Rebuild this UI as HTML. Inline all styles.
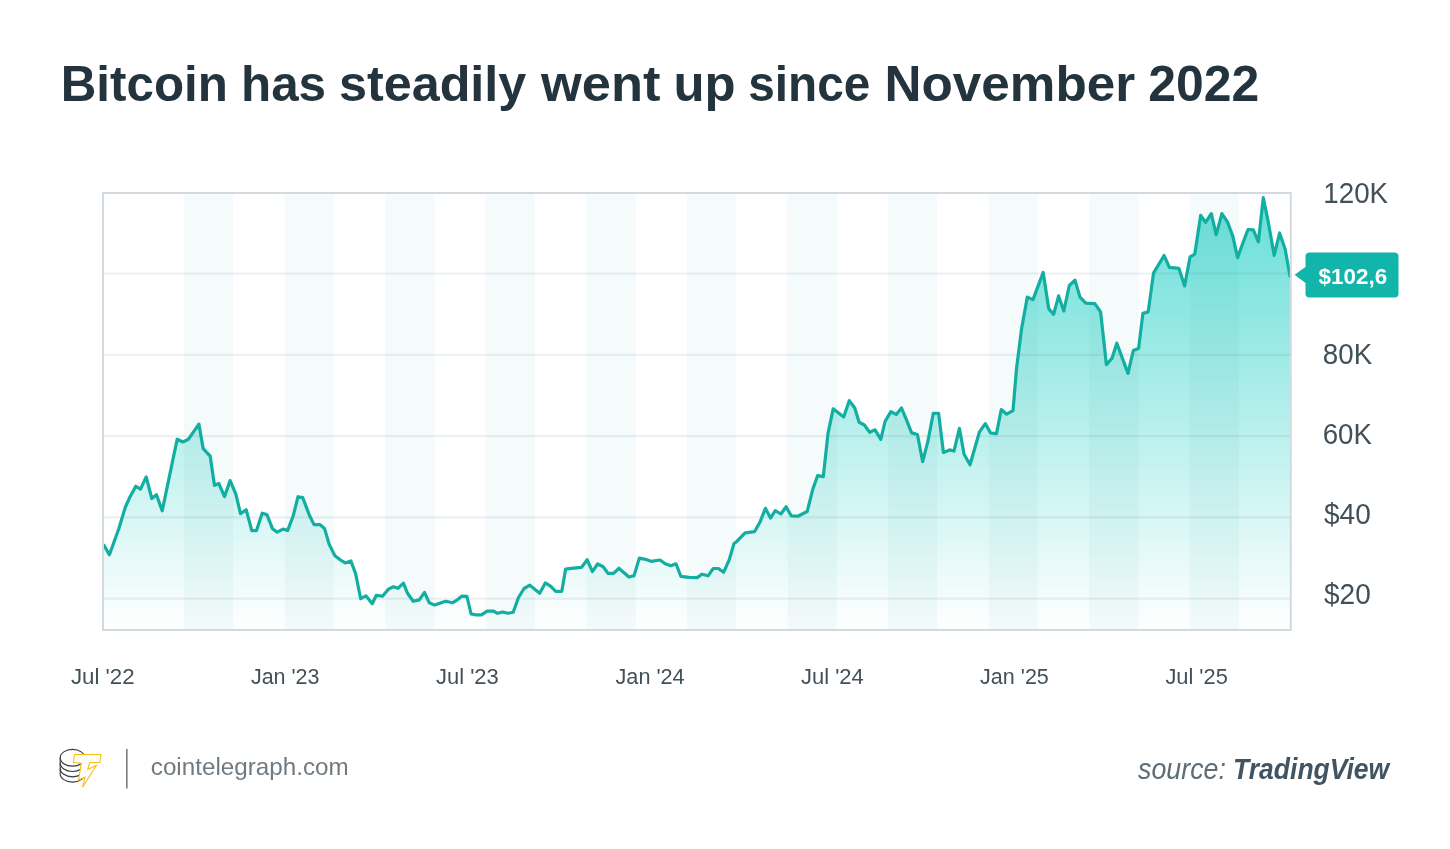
<!DOCTYPE html>
<html><head><meta charset="utf-8"><style>
html,body{margin:0;padding:0;background:#fff;width:1450px;height:849px;overflow:hidden}
svg{display:block;will-change:transform}
text{font-family:"Liberation Sans",sans-serif}
</style></head><body>
<svg width="1450" height="849" viewBox="0 0 1450 849">
<defs>
<linearGradient id="g" gradientUnits="userSpaceOnUse" x1="0" y1="193" x2="0" y2="630">
<stop offset="0" stop-color="#66ded7"/>
<stop offset="1" stop-color="#ffffff"/>
</linearGradient>
</defs>
<rect width="1450" height="849" fill="#fff"/>
<text x="60.72" y="100.6" font-size="49.6" font-weight="bold" fill="#24343e" textLength="167.12" lengthAdjust="spacingAndGlyphs">Bitcoin</text>
<text x="241.02" y="100.6" font-size="49.6" font-weight="bold" fill="#24343e" textLength="85.04" lengthAdjust="spacingAndGlyphs">has</text>
<text x="338.92" y="100.6" font-size="49.6" font-weight="bold" fill="#24343e" textLength="187.43" lengthAdjust="spacingAndGlyphs">steadily</text>
<text x="541.0" y="100.6" font-size="49.6" font-weight="bold" fill="#24343e" textLength="119.36" lengthAdjust="spacingAndGlyphs">went</text>
<text x="673.52" y="100.6" font-size="49.6" font-weight="bold" fill="#24343e" textLength="62.12" lengthAdjust="spacingAndGlyphs">up</text>
<text x="748.22" y="100.6" font-size="49.6" font-weight="bold" fill="#24343e" textLength="122.0" lengthAdjust="spacingAndGlyphs">since</text>
<text x="884.54" y="100.6" font-size="49.6" font-weight="bold" fill="#24343e" textLength="250.69" lengthAdjust="spacingAndGlyphs">November</text>
<text x="1148.24" y="100.6" font-size="49.6" font-weight="bold" fill="#24343e" textLength="110.95" lengthAdjust="spacingAndGlyphs">2022</text>
<path d="M103.5 544.5 L109.4 554.7 L118.8 528.7 L125.4 507 L130.1 496.7 L135.8 486.3 L140.5 489.1 L146.2 476.9 L151.8 498.5 L156.5 494.8 L162.2 510.8 L177.2 439.2 L182.9 442 L188.5 439.2 L198.9 424.1 L203.2 448.6 L210.2 456.2 L214.5 485.4 L218.8 483.5 L224.5 496.7 L230.1 480.6 L235.8 493.8 L240.5 513.6 L246.2 509.8 L251.8 530.6 L256.5 530.6 L262.2 513.2 L266.9 514.6 L272.5 528.7 L277.2 532.1 L282.9 529.1 L287.6 530.6 L293.3 515.5 L298 496.7 L302.7 497.6 L309.4 515.2 L314 524.6 L319.8 524.6 L324.5 528.4 L329.2 544.4 L334.9 555.7 L340.5 560 L345.2 562.9 L350.9 561 L355.6 573.6 L360.7 598.7 L365.9 595.8 L372.2 603.8 L376.3 595.3 L382.5 596.2 L388.5 589.1 L393.3 586.8 L398 588.3 L403.4 583.1 L407.5 593.3 L413.2 601.3 L419.3 599.9 L424.5 592.4 L429.2 602.7 L434.8 605.1 L440.5 603 L445.7 601.3 L452.7 602.7 L456.5 600.4 L461.7 596.2 L466.9 596.3 L471.1 614 L476.3 614.8 L481.5 614.8 L487.1 611.2 L493.2 611 L497.5 613.3 L502.7 612 L507.8 613.3 L513.2 612.2 L518.5 597.5 L524.1 588.5 L529.8 585.2 L539.7 593.2 L545.3 582.9 L550.5 586.2 L555.7 591.3 L561.8 591.3 L565.6 569.2 L571.2 568.3 L581.6 567.3 L587.2 559.8 L592.4 571.6 L597.6 564 L603.2 566.8 L608 573.4 L613.6 573.4 L618.8 568.3 L628.9 577 L634.1 575.6 L639.3 558.1 L644.5 559.1 L651.1 561.3 L660 560 L665.2 563.8 L670.9 565.7 L676 563.8 L680.8 576.3 L688.8 577.3 L697.2 577.6 L701.9 574.2 L708.1 575.8 L713.2 568.5 L718.4 568.5 L723.6 572.3 L729.3 559.6 L734 543.5 L736.6 541.7 L745.1 532.8 L754.5 531.7 L760.1 521.9 L765.4 508.3 L770.5 518.1 L775.2 510.6 L780.9 514 L786.1 506.8 L791.2 515.8 L797.8 516.2 L807.2 511.5 L812.9 488.9 L817.6 475.7 L823.3 476.7 L828 433.3 L833.2 408.8 L843.7 417 L849.3 400.6 L854.8 408 L859.1 422.3 L864.4 425 L869.7 432.4 L875 429.8 L880.8 439.3 L885.1 421.3 L890.9 411.7 L896.2 414.4 L901.5 408 L906.8 420.7 L911.6 432.9 L917.4 434.5 L922.7 461.6 L928 440.9 L933.3 413.3 L938.6 413.3 L943.4 452.5 L949.7 449.9 L954 451 L959.4 428.3 L964.1 454.2 L970 464.8 L979.5 431.8 L985.3 423.6 L990.6 433 L996.5 433.6 L1001.3 409.5 L1006.6 414.2 L1013 410.6 L1016.5 368.8 L1021.5 329.2 L1027.3 297.1 L1033 299.6 L1043.2 272.4 L1048.7 308.6 L1053.6 314.4 L1058.6 295.9 L1063.8 311.1 L1069.3 285.5 L1075 280.1 L1080 297.1 L1085.8 303.2 L1094.8 303.7 L1100.6 311.9 L1106.4 364.7 L1112.1 358.1 L1116.8 343.2 L1128 373.4 L1133.3 350.5 L1138.6 348.4 L1142.9 313.4 L1148.2 311.9 L1153.5 273.1 L1164.1 255.5 L1169.4 267.4 L1178.9 268.3 L1184.6 285.9 L1190.1 256.8 L1194.8 254.1 L1200.7 215.3 L1205.6 222.4 L1211.3 213.6 L1216.2 234.8 L1221.9 213.6 L1227.4 221.8 L1232.7 235.9 L1237.6 257.7 L1243.3 241.8 L1248 229.5 L1253.3 229.8 L1258.4 241.8 L1263.3 197.7 L1268 220.6 L1274.2 255.4 L1279.6 233 L1285.1 248.9 L1290.2 277.2 L1290.2 630 L103.5 630 Z" fill="url(#g)"/>
<g fill="#1a8080" fill-opacity="0.045"><rect x="184" y="194" width="49.3" height="435"/><rect x="284.6" y="194" width="49.3" height="435"/><rect x="385.2" y="194" width="49.3" height="435"/><rect x="485.7" y="194" width="49.3" height="435"/><rect x="586.3" y="194" width="49.3" height="435"/><rect x="686.9" y="194" width="49.3" height="435"/><rect x="787.5" y="194" width="49.3" height="435"/><rect x="888.1" y="194" width="49.3" height="435"/><rect x="988.6" y="194" width="49.3" height="435"/><rect x="1089.2" y="194" width="49.3" height="435"/><rect x="1189.8" y="194" width="49.3" height="435"/></g>
<g stroke="#144650" stroke-opacity="0.075" stroke-width="2.2">
<line x1="104" y1="273.5" x2="1290" y2="273.5"/>
<line x1="104" y1="354.8" x2="1290" y2="354.8"/>
<line x1="104" y1="436.1" x2="1290" y2="436.1"/>
<line x1="104" y1="517.4" x2="1290" y2="517.4"/>
<line x1="104" y1="598.7" x2="1290" y2="598.7"/>
</g>
<path d="M103.5 544.5 L109.4 554.7 L118.8 528.7 L125.4 507 L130.1 496.7 L135.8 486.3 L140.5 489.1 L146.2 476.9 L151.8 498.5 L156.5 494.8 L162.2 510.8 L177.2 439.2 L182.9 442 L188.5 439.2 L198.9 424.1 L203.2 448.6 L210.2 456.2 L214.5 485.4 L218.8 483.5 L224.5 496.7 L230.1 480.6 L235.8 493.8 L240.5 513.6 L246.2 509.8 L251.8 530.6 L256.5 530.6 L262.2 513.2 L266.9 514.6 L272.5 528.7 L277.2 532.1 L282.9 529.1 L287.6 530.6 L293.3 515.5 L298 496.7 L302.7 497.6 L309.4 515.2 L314 524.6 L319.8 524.6 L324.5 528.4 L329.2 544.4 L334.9 555.7 L340.5 560 L345.2 562.9 L350.9 561 L355.6 573.6 L360.7 598.7 L365.9 595.8 L372.2 603.8 L376.3 595.3 L382.5 596.2 L388.5 589.1 L393.3 586.8 L398 588.3 L403.4 583.1 L407.5 593.3 L413.2 601.3 L419.3 599.9 L424.5 592.4 L429.2 602.7 L434.8 605.1 L440.5 603 L445.7 601.3 L452.7 602.7 L456.5 600.4 L461.7 596.2 L466.9 596.3 L471.1 614 L476.3 614.8 L481.5 614.8 L487.1 611.2 L493.2 611 L497.5 613.3 L502.7 612 L507.8 613.3 L513.2 612.2 L518.5 597.5 L524.1 588.5 L529.8 585.2 L539.7 593.2 L545.3 582.9 L550.5 586.2 L555.7 591.3 L561.8 591.3 L565.6 569.2 L571.2 568.3 L581.6 567.3 L587.2 559.8 L592.4 571.6 L597.6 564 L603.2 566.8 L608 573.4 L613.6 573.4 L618.8 568.3 L628.9 577 L634.1 575.6 L639.3 558.1 L644.5 559.1 L651.1 561.3 L660 560 L665.2 563.8 L670.9 565.7 L676 563.8 L680.8 576.3 L688.8 577.3 L697.2 577.6 L701.9 574.2 L708.1 575.8 L713.2 568.5 L718.4 568.5 L723.6 572.3 L729.3 559.6 L734 543.5 L736.6 541.7 L745.1 532.8 L754.5 531.7 L760.1 521.9 L765.4 508.3 L770.5 518.1 L775.2 510.6 L780.9 514 L786.1 506.8 L791.2 515.8 L797.8 516.2 L807.2 511.5 L812.9 488.9 L817.6 475.7 L823.3 476.7 L828 433.3 L833.2 408.8 L843.7 417 L849.3 400.6 L854.8 408 L859.1 422.3 L864.4 425 L869.7 432.4 L875 429.8 L880.8 439.3 L885.1 421.3 L890.9 411.7 L896.2 414.4 L901.5 408 L906.8 420.7 L911.6 432.9 L917.4 434.5 L922.7 461.6 L928 440.9 L933.3 413.3 L938.6 413.3 L943.4 452.5 L949.7 449.9 L954 451 L959.4 428.3 L964.1 454.2 L970 464.8 L979.5 431.8 L985.3 423.6 L990.6 433 L996.5 433.6 L1001.3 409.5 L1006.6 414.2 L1013 410.6 L1016.5 368.8 L1021.5 329.2 L1027.3 297.1 L1033 299.6 L1043.2 272.4 L1048.7 308.6 L1053.6 314.4 L1058.6 295.9 L1063.8 311.1 L1069.3 285.5 L1075 280.1 L1080 297.1 L1085.8 303.2 L1094.8 303.7 L1100.6 311.9 L1106.4 364.7 L1112.1 358.1 L1116.8 343.2 L1128 373.4 L1133.3 350.5 L1138.6 348.4 L1142.9 313.4 L1148.2 311.9 L1153.5 273.1 L1164.1 255.5 L1169.4 267.4 L1178.9 268.3 L1184.6 285.9 L1190.1 256.8 L1194.8 254.1 L1200.7 215.3 L1205.6 222.4 L1211.3 213.6 L1216.2 234.8 L1221.9 213.6 L1227.4 221.8 L1232.7 235.9 L1237.6 257.7 L1243.3 241.8 L1248 229.5 L1253.3 229.8 L1258.4 241.8 L1263.3 197.7 L1268 220.6 L1274.2 255.4 L1279.6 233 L1285.1 248.9 L1290.2 277.2" fill="none" stroke="#12aea2" stroke-width="3.2" stroke-linejoin="round"/>
<rect x="103" y="193" width="1187.8" height="437" fill="none" stroke="#d0dae0" stroke-width="2"/>
<text x="1323.32" y="203" font-size="28.6" fill="#425159" textLength="64.8" lengthAdjust="spacingAndGlyphs">120K</text>
<text x="1322.79" y="363.5" font-size="28.6" fill="#425159" textLength="49.39" lengthAdjust="spacingAndGlyphs">80K</text>
<text x="1322.65" y="443.7" font-size="28.6" fill="#425159" textLength="49.23" lengthAdjust="spacingAndGlyphs">60K</text>
<text x="1323.95" y="523.7" font-size="28.6" fill="#425159" textLength="46.84" lengthAdjust="spacingAndGlyphs">$40</text>
<text x="1323.95" y="603.7" font-size="28.6" fill="#425159" textLength="46.84" lengthAdjust="spacingAndGlyphs">$20</text>
<path d="M1294.6 274.8 L1305.5 267 L1305.5 256.5 Q1305.5 252.5 1309.5 252.5 L1394.5 252.5 Q1398.5 252.5 1398.5 256.5 L1398.5 293.5 Q1398.5 297.5 1394.5 297.5 L1309.5 297.5 Q1305.5 297.5 1305.5 293.5 L1305.5 283 Z" fill="#12b5aa"/>
<text x="1318.55" y="283.7" font-size="22.3" font-weight="bold" fill="#fff" textLength="68.55" lengthAdjust="spacingAndGlyphs">$102,6</text>
<text x="70.9" y="683.8" font-size="22.3" fill="#425159" textLength="63.62" lengthAdjust="spacingAndGlyphs">Jul '22</text>
<text x="250.92" y="683.8" font-size="22.3" fill="#425159" textLength="68.6" lengthAdjust="spacingAndGlyphs">Jan '23</text>
<text x="436.01" y="683.8" font-size="22.3" fill="#425159" textLength="62.8" lengthAdjust="spacingAndGlyphs">Jul '23</text>
<text x="615.51" y="683.8" font-size="22.3" fill="#425159" textLength="69.17" lengthAdjust="spacingAndGlyphs">Jan '24</text>
<text x="801.01" y="683.8" font-size="22.3" fill="#425159" textLength="62.75" lengthAdjust="spacingAndGlyphs">Jul '24</text>
<text x="980.12" y="683.8" font-size="22.3" fill="#425159" textLength="68.7" lengthAdjust="spacingAndGlyphs">Jan '25</text>
<text x="1165.41" y="683.8" font-size="22.3" fill="#425159" textLength="62.39" lengthAdjust="spacingAndGlyphs">Jul '25</text>
<g fill="none" stroke="#33393e" stroke-width="1.15">
<ellipse cx="72.5" cy="757.8" rx="12.3" ry="8.4"/>
<path d="M60.2 757.8 L60.2 773.7"/>
<path d="M60.2 763.1 A12.3 8.4 0 0 0 84.8 763.1"/>
<path d="M60.2 768.4 A12.3 8.4 0 0 0 84.8 768.4"/>
<path d="M60.2 773.7 A12.3 8.4 0 0 0 84.8 773.7"/>
</g>
<path d="M74.5 754.5 L100.9 754.5 L99.7 762.5 L89.8 762.5 L87.7 769.3 L96.4 765.5 L82.5 787.2 L85.1 777.3 L78.5 780.1 L81.3 763.2 L73.5 762.5 Z" fill="#fff" stroke="#f5be14" stroke-width="1.1" stroke-linejoin="miter"/>
<rect x="126" y="749" width="1.6" height="39.5" fill="#7a7f83"/>
<text x="150.81" y="775.4" font-size="24.4" fill="#707a80" textLength="197.84" lengthAdjust="spacingAndGlyphs">cointelegraph.com</text>
<text x="1138.07" y="778.9" font-size="28.8" font-style="italic" fill="#5d6c75" textLength="87.84" lengthAdjust="spacingAndGlyphs">source:</text>
<text x="1233.06" y="778.9" font-size="28.8" font-weight="bold" font-style="italic" fill="#405461" textLength="156.17" lengthAdjust="spacingAndGlyphs">TradingView</text>
</svg>
</body></html>
